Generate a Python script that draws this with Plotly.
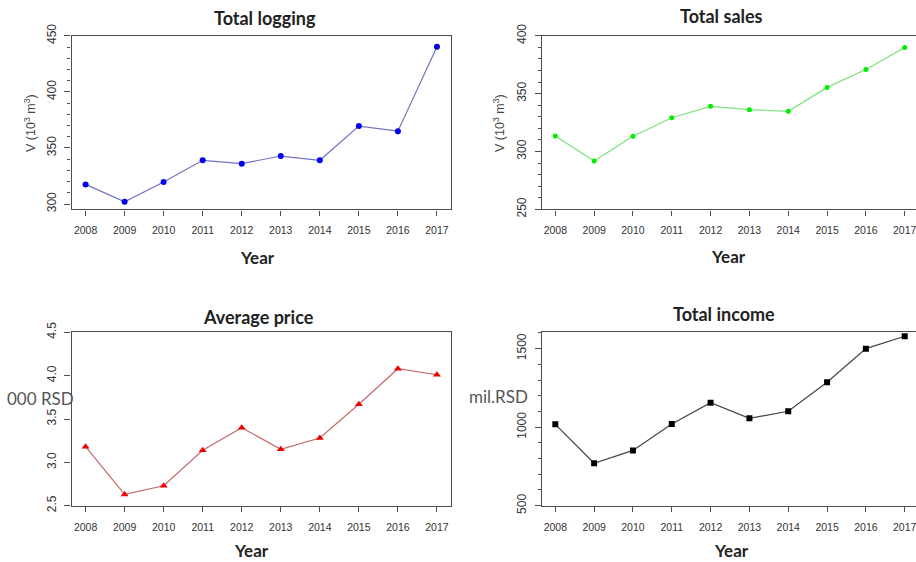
import plotly.graph_objects as go

years = [2008, 2009, 2010, 2011, 2012, 2013, 2014, 2015, 2016, 2017]
total_logging = [317.5, 302.0, 319.6, 339.0, 336.0, 342.8, 339.0, 369.5, 365.0, 440.2]
total_sales = [313.3, 291.8, 313.1, 329.2, 339.0, 336.1, 334.7, 355.4, 370.9, 389.9]
average_price = [3.18, 2.63, 2.73, 3.14, 3.40, 3.15, 3.28, 3.67, 4.08, 4.01]
total_income = [1018, 770, 852, 1020, 1156, 1056, 1101, 1286, 1500, 1579]

titles = ["Total logging", "Total sales", "Average price", "Total income"]

W, H = 916, 562
def px(x):
    return x / W
def py(y):
    return 1 - y / H

fig = go.Figure()

fig.add_trace(go.Scatter(x=years, y=total_logging, mode="lines+markers",
                         line=dict(color="#7272c2", width=1.2),
                         marker=dict(symbol="circle", size=6, color="#0000ee"),
                         xaxis="x", yaxis="y", showlegend=False))
fig.add_trace(go.Scatter(x=years, y=total_sales, mode="lines+markers",
                         line=dict(color="#7de27d", width=1.2),
                         marker=dict(symbol="circle", size=5, color="#00ee00"),
                         xaxis="x2", yaxis="y2", showlegend=False))
fig.add_trace(go.Scatter(x=years, y=average_price, mode="lines+markers",
                         line=dict(color="#c46a6a", width=1.2),
                         marker=dict(symbol="triangle-up", size=7, color="#ee0000"),
                         xaxis="x3", yaxis="y3", showlegend=False))
fig.add_trace(go.Scatter(x=years, y=total_income, mode="lines+markers",
                         line=dict(color="#444444", width=1.2),
                         marker=dict(symbol="square", size=6, color="#000000"),
                         xaxis="x4", yaxis="y4", showlegend=False))

tickfont_x = dict(family="Liberation Sans, Arial", size=10.5, color="#333333")
tickfont_y = dict(family="Liberation Sans, Arial", size=12, color="#333333")
linecol = "#4d4d4d"

def xax(dom, rng, anchor, mirror):
    return dict(domain=dom, range=rng, anchor=anchor, tickmode="array",
                tickvals=years, ticktext=[str(y) for y in years],
                ticks="outside", ticklen=5, tickcolor=linecol, tickwidth=1,
                showline=True, linecolor=linecol, linewidth=1.4, mirror=mirror,
                showgrid=False, zeroline=False, tickfont=tickfont_x,
                ticklabelstandoff=6, ticklabeloverflow="allow",
                automargin=False, fixedrange=True)

def yax(dom, rng, anchor, dtick, minor, mirror):
    d = dict(domain=dom, range=rng, anchor=anchor, dtick=dtick, tick0=0,
             ticks="outside", ticklen=6, tickcolor=linecol, tickwidth=1,
             showline=True, linecolor=linecol, linewidth=1.4, mirror=mirror,
             showgrid=False, zeroline=False, tickfont=tickfont_y, tickangle=-90,
             ticklabelstandoff=4, ticklabeloverflow="allow",
             automargin=False, fixedrange=True)
    if minor:
        d["minor"] = dict(dtick=minor, ticks="outside", ticklen=3,
                          tickcolor=linecol, showgrid=False)
    return d

top_dom = [py(209.3), py(35.8)]
bot_dom = [py(505.7), py(332.3)]
left_dom = [px(71.5), px(451)]
right_dom = [px(542), 1.0]
left_rng = [2007.64, 2017.36]
right_rng = [2008 - 13.3 / 38.82, 2017 + 11.3 / 38.82]

fig.update_layout(
    template="none",
    width=W, height=H,
    margin=dict(l=0, r=0, t=0, b=0, pad=0, autoexpand=False),
    paper_bgcolor="white", plot_bgcolor="white",
    xaxis=xax(left_dom, left_rng, "y", True),
    yaxis=yax(top_dom, [295.3, 450], "x", 50, 10, True),
    xaxis2=xax(right_dom, right_rng, "y2", True),
    yaxis2=yax(top_dom, [250, 400], "x2", 50, 10, False),
    xaxis3=xax(left_dom, left_rng, "y3", True),
    yaxis3=yax(bot_dom, [2.5, 4.5], "x3", 0.5, None, True),
    xaxis4=xax(right_dom, right_rng, "y4", True),
    yaxis4=yax(bot_dom, [500, 1604], "x4", 500, 100, False),
)
fig.update_layout(yaxis3=dict(tickformat=".1f"))

title_font = dict(family="Lato, Open Sans, sans-serif", size=18, color="#222222")
year_font = dict(family="Lato, Open Sans, sans-serif", size=17, color="#222222")

ann = []
for t, (x, y) in zip(titles, [(265, 18), (721, 16), (258, 317), (724, 314)]):
    ann.append(dict(text="<b>%s</b>" % t, x=px(x), y=py(y), xref="paper", yref="paper",
                    showarrow=False, font=title_font, xanchor="center", yanchor="middle"))
for (x, y) in [(257, 257), (728, 256), (251, 550), (731, 550)]:
    ann.append(dict(text="<b>Year</b>", x=px(x), y=py(y), xref="paper", yref="paper",
                    showarrow=False, font=year_font, xanchor="center", yanchor="middle"))
vol_label = "V (10<sup>3</sup> m<sup>3</sup>)"
for (x, y) in [(30, 123), (499, 123)]:
    ann.append(dict(text=vol_label, x=px(x), y=py(y), xref="paper", yref="paper",
                    showarrow=False, textangle=-90,
                    font=dict(family="Liberation Sans, Arial", size=12.5, color="#444444"),
                    xanchor="center", yanchor="middle"))
ann.append(dict(text="000 RSD", x=px(40), y=py(398), xref="paper", yref="paper",
                showarrow=False, font=dict(family="Lato, Open Sans, sans-serif", size=17, color="#555555"),
                xanchor="center", yanchor="middle"))
ann.append(dict(text="mil.RSD", x=px(498), y=py(396), xref="paper", yref="paper",
                showarrow=False, font=dict(family="Lato, Open Sans, sans-serif", size=17, color="#555555"),
                xanchor="center", yanchor="middle"))
fig.update_layout(annotations=ann)

fig.write_html("out.html", config={"displayModeBar": False},
               post_script="document.body.style.margin='0';document.body.style.overflow='hidden';")
